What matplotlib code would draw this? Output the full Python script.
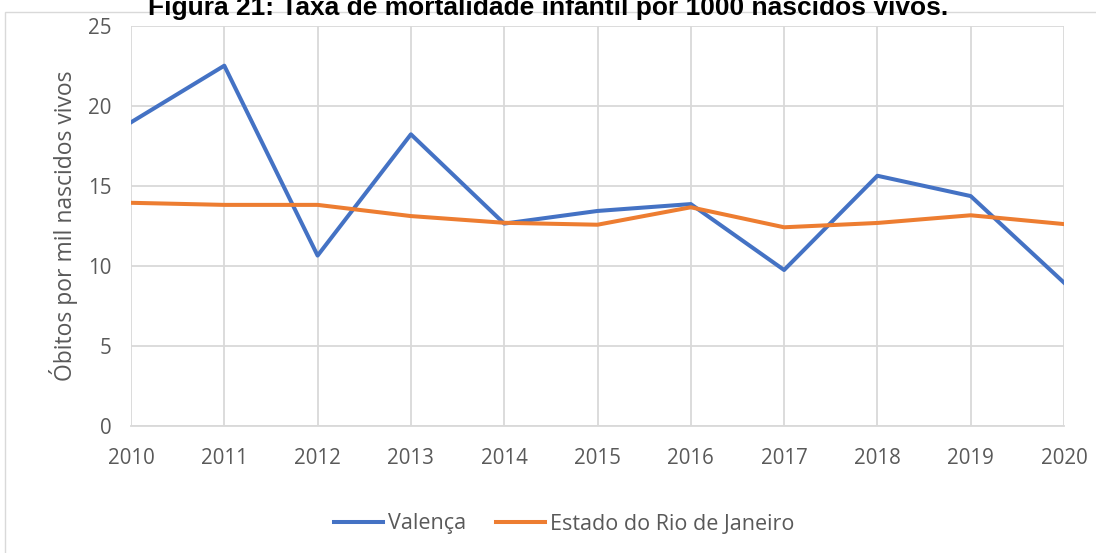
import matplotlib.pyplot as plt
from matplotlib.patches import Rectangle

years = [2010, 2011, 2012, 2013, 2014, 2015, 2016, 2017, 2018, 2019, 2020]
valenca = [18.98, 22.52, 10.65, 18.23, 12.65, 13.44, 13.87, 9.75, 15.64, 14.37, 8.96]
rio = [13.95, 13.82, 13.82, 13.12, 12.70, 12.58, 13.67, 12.42, 12.69, 13.17, 12.62]

plt.rcParams['font.family'] = ['Open Sans', 'DejaVu Sans']

W, H = 1096, 553
fig = plt.figure(figsize=(W / 100, H / 100), dpi=100)
ax = fig.add_axes([131 / W, 1 - 426 / H, (1064 - 131) / W, (426 - 26) / H])

# chart area border
fig.patches.append(Rectangle((5 / W, -0.1), 1.2, 1 - 12 / H + 0.1, transform=fig.transFigure,
                             fill=False, edgecolor='#d9d9d9', lw=1))

ax.plot(years, valenca, color='#4472C4', lw=2.9, label='Valença')
ax.plot(years, rio, color='#ED7D31', lw=2.9, label='Estado do Rio de Janeiro')

ax.set_xlim(2010, 2020)
ax.set_ylim(0, 25)
ax.set_xticks(years)
ax.set_yticks([0, 5, 10, 15, 20, 25])
ax.grid(True, color='#d9d9d9', lw=1.3)
ax.set_axisbelow(True)
for s in ['top', 'right', 'left']:
    ax.spines[s].set_visible(False)
ax.spines['bottom'].set_color('#d9d9d9')
ax.spines['bottom'].set_linewidth(1.3)
ax.tick_params(length=0, labelsize=14.8, labelcolor='#595959')
ax.tick_params(axis='x', pad=16)
ax.tick_params(axis='y', pad=14)
ax.set_ylabel('Óbitos por mil nascidos vivos', fontsize=16.5, color='#595959', labelpad=7)

fig.text(0.5, 1 - 15 / H, 'Figura 21: Taxa de mortalidade infantil por 1000 nascidos vivos.',
         ha='center', va='baseline', fontsize=19, fontweight='bold', family=['Liberation Sans'])

fig.legend(loc='center', bbox_to_anchor=(564 / W, 1 - 524 / H), ncol=2, frameon=False,
           fontsize=15.5, labelcolor='#595959', handlelength=2.3, handletextpad=0.2,
           columnspacing=1.4)

fig.savefig('out.png', dpi=100)
